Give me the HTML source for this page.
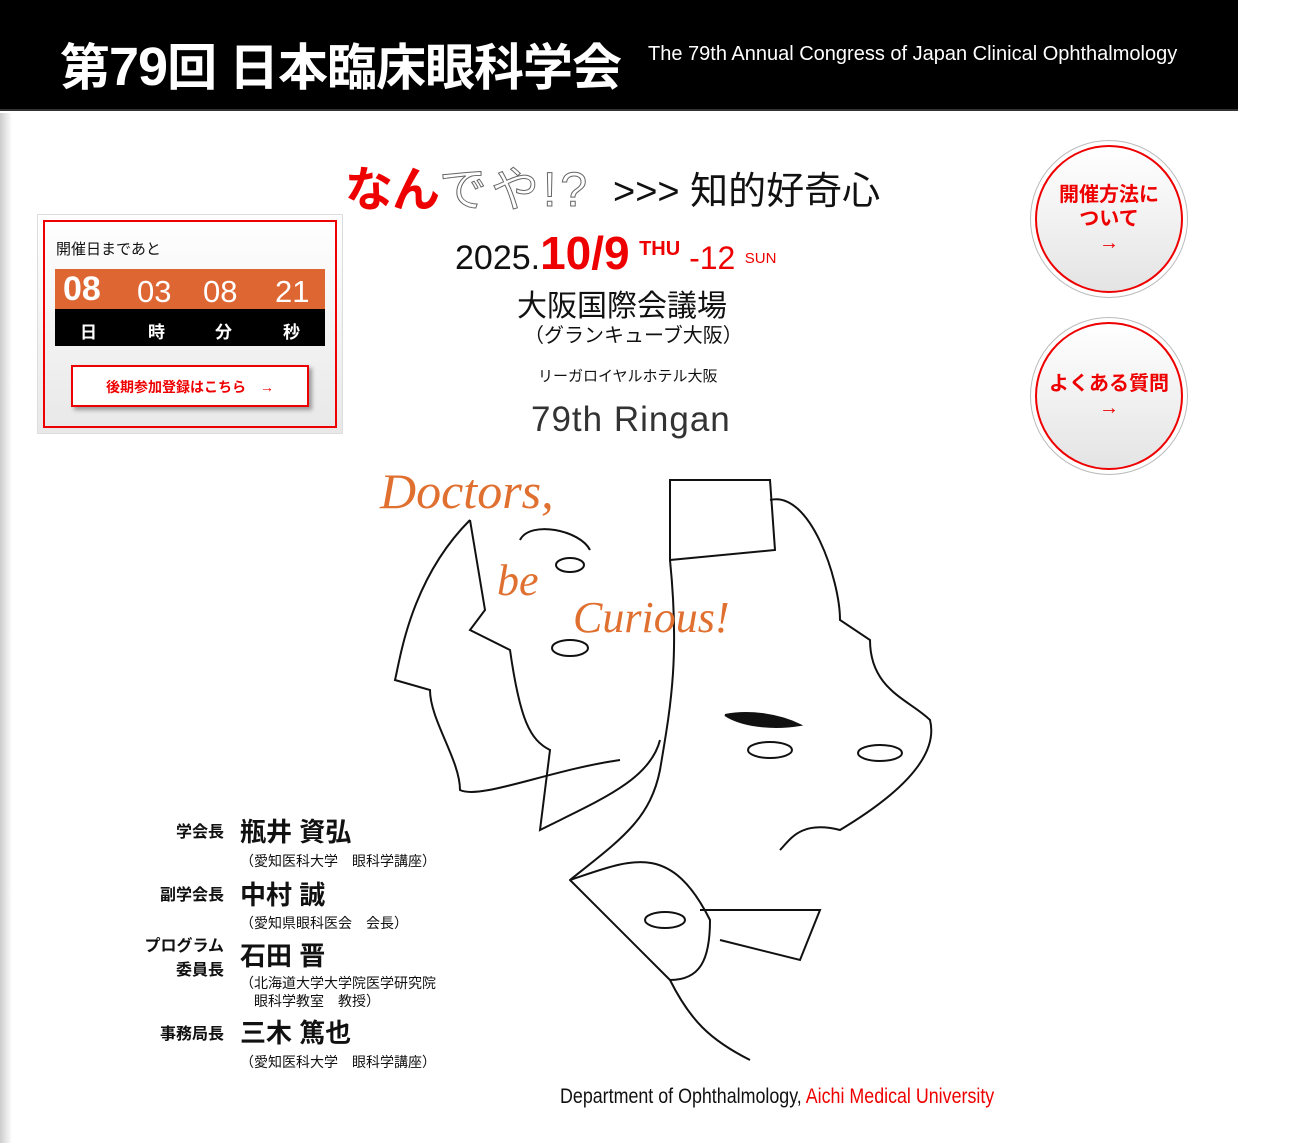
<!DOCTYPE html>
<html><head><meta charset="utf-8"><style>
*{margin:0;padding:0;box-sizing:border-box}
body{width:1300px;height:1143px;background:#fff;position:relative;overflow:hidden;font-family:"Liberation Sans","Noto Sans CJK JP",sans-serif;color:#111}
.a{position:absolute;white-space:nowrap}
#hd{left:0;top:0;width:1238px;height:111px;background:#000;border-bottom:2px solid #333}
#strip{left:0;top:113px;width:12px;height:1030px;background:linear-gradient(to right,#ccc,#fff)}
.circ{width:158px;height:158px;border-radius:50%;border:1px solid #bbb;background:#fff;padding:4px}
.circ div{width:148px;height:148px;border-radius:50%;border:2px solid #e00;background:linear-gradient(#fff,#e4e4e4);color:#e00;font-weight:bold;font-size:20px;text-align:center;display:flex;align-items:center;justify-content:center;line-height:1.2}
.nm{font-size:16px;font-weight:bold;text-align:right;width:100px}
.big{font-size:26px;font-weight:bold}
.sm{font-size:14px}
</style></head><body>
<div class="a" id="hd"></div>
<div class="a" id="strip"></div>
<div class="a" style="left:60px;top:28px;color:#fff;font-size:50px;font-weight:bold;letter-spacing:-1px">第<span style="font-size:54px">79</span>回 日本臨床眼科学会</div>
<div class="a" style="left:648px;top:43px;color:#fff;font-size:20px">The 79th Annual Congress of Japan Clinical Ophthalmology</div>

<div class="a" style="left:345px;top:150px;font-size:48px;font-weight:bold;color:#e00;letter-spacing:-1px">なん<span style="color:#fff;-webkit-text-stroke:1px #666;font-weight:normal;letter-spacing:4px">でや!?</span></div>
<div class="a" style="left:613px;top:160px;font-size:38px;color:#111">&gt;&gt;&gt; 知的好奇心</div>
<div class="a" style="left:455px;top:226px;font-size:34px">2025.<span style="color:#e00;font-size:46px;font-weight:bold">10/9</span> <span style="color:#e00;font-size:20px;font-weight:bold;vertical-align:14px">THU</span><span style="color:#e00;font-size:32px"> -12</span> <span style="color:#e00;font-size:15px;vertical-align:6px">SUN</span></div>
<div class="a" style="left:517px;top:281px;font-size:30px">大阪国際会議場</div>
<div class="a" style="left:524px;top:319px;font-size:20px">（グランキューブ大阪）</div>
<div class="a" style="left:538px;top:365px;font-size:15px">リーガロイヤルホテル大阪</div>
<div class="a" style="left:531px;top:400px;font-size:35px;color:#333;letter-spacing:1px">79th Ringan</div>

<div class="a" style="left:37px;top:214px;width:306px;height:220px;background:linear-gradient(#fff,#e8e8e8);border:1px solid #ddd"></div>
<div class="a" style="left:43px;top:220px;width:294px;height:208px;border:2px solid #e00"></div>
<div class="a" style="left:56px;top:238px;font-size:15px">開催日まであと</div>
<div class="a" style="left:55px;top:269px;width:270px;height:40px;background:#dd6633"></div>
<div class="a" style="left:55px;top:309px;width:270px;height:37px;background:#000"></div>
<div class="a" style="left:63px;top:270px;color:#fff;font-size:34px;font-weight:bold">08</div>
<div class="a" style="left:137px;top:274px;color:#fff;font-size:31px">03</div>
<div class="a" style="left:203px;top:274px;color:#fff;font-size:31px">08</div>
<div class="a" style="left:275px;top:274px;color:#fff;font-size:31px">21</div>
<div class="a" style="left:80px;top:318px;color:#fff;font-size:17px;font-weight:bold">日</div>
<div class="a" style="left:148px;top:318px;color:#fff;font-size:17px;font-weight:bold">時</div>
<div class="a" style="left:215px;top:318px;color:#fff;font-size:17px;font-weight:bold">分</div>
<div class="a" style="left:283px;top:318px;color:#fff;font-size:17px;font-weight:bold">秒</div>
<div class="a" style="left:71px;top:365px;width:238px;height:42px;background:#fff;border:2px solid #e00;box-shadow:3px 3px 4px #999;color:#e00;font-size:14px;font-weight:bold;text-align:center;line-height:40px">後期参加登録はこちら　→</div>

<div class="a circ" style="left:1030px;top:140px"><div>開催方法に<br>ついて<br>→</div></div>
<div class="a circ" style="left:1030px;top:317px"><div>よくある質問<br>→</div></div>

<svg class="a" style="left:370px;top:460px" width="580" height="610" fill="none" stroke="#111" stroke-width="2">
<path d="M100 60 C40 120 30 200 25 220 L60 230 C60 260 90 300 90 330 C110 340 180 310 250 300"/>
<path d="M100 60 L115 150 L100 170 L140 190 C150 260 160 280 180 290 L170 370 C230 340 280 320 290 280"/>
<path d="M300 20 L400 20 L405 90 L300 100 Z"/>
<path d="M400 40 C440 30 470 120 470 160 L500 180 C500 230 540 240 560 260 C570 300 520 340 470 370 C430 360 420 380 410 390"/>
<path d="M300 100 C310 200 300 250 290 310 C280 360 250 380 200 420 C240 460 280 500 300 520 C320 560 340 580 380 600"/>
<path d="M200 420 C260 400 300 380 340 460 C340 500 330 520 300 520"/>
<path d="M355 255 C380 250 410 255 430 265 C400 270 370 265 355 255" fill="#111"/>
<ellipse cx="400" cy="290" rx="22" ry="8"/><ellipse cx="510" cy="293" rx="22" ry="8"/><ellipse cx="200" cy="188" rx="18" ry="8"/><ellipse cx="295" cy="460" rx="20" ry="8"/><ellipse cx="200" cy="105" rx="14" ry="7"/>
<path d="M150 80 C160 60 210 70 220 90"/>
<path d="M330 450 L450 450 L430 500 L350 480"/>
</svg>
<div class="a" style="left:380px;top:462px;font-family:'Liberation Serif',serif;font-size:50px;color:#e07030;font-style:italic">Doctors,</div>
<div class="a" style="left:497px;top:555px;font-family:'Liberation Serif',serif;font-size:44px;color:#e07030;font-style:italic">be</div>
<div class="a" style="left:573px;top:592px;font-family:'Liberation Serif',serif;font-size:44px;color:#e07030;font-style:italic">Curious!</div>

<div class="a nm" style="left:124px;top:818px">学会長</div>
<div class="a big" style="left:240px;top:812px">瓶井 資弘</div>
<div class="a sm" style="left:240px;top:851px">（愛知医科大学　眼科学講座）</div>
<div class="a nm" style="left:124px;top:881px">副学会長</div>
<div class="a big" style="left:240px;top:875px">中村 誠</div>
<div class="a sm" style="left:240px;top:913px">（愛知県眼科医会　会長）</div>
<div class="a nm" style="left:124px;top:935px;line-height:1.5">プログラム<br>委員長</div>
<div class="a big" style="left:240px;top:936px">石田 晋</div>
<div class="a sm" style="left:240px;top:974px;line-height:1.3">（北海道大学大学院医学研究院<br>　眼科学教室　教授）</div>
<div class="a nm" style="left:124px;top:1020px">事務局長</div>
<div class="a big" style="left:240px;top:1013px">三木 篤也</div>
<div class="a sm" style="left:240px;top:1052px">（愛知医科大学　眼科学講座）</div>

<div class="a" style="left:560px;top:1085px;font-size:21px;transform:scaleX(0.85);transform-origin:left">Department of Ophthalmology, <span style="color:#e00">Aichi Medical University</span></div>
</body></html>
